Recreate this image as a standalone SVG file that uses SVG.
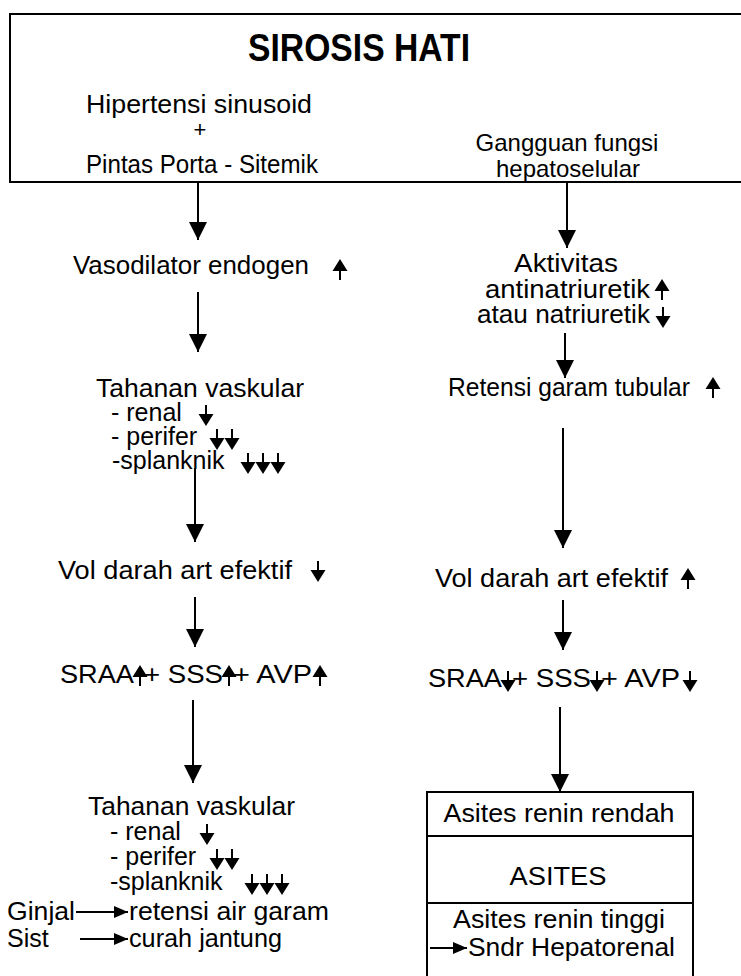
<svg xmlns="http://www.w3.org/2000/svg" xmlns:xlink="http://www.w3.org/1999/xlink" width="741" height="976" viewBox="0 0 741 976">
<style>
text{font-family:"Liberation Sans",Arial,sans-serif;font-size:25px;fill:#000}
.t{font-size:38px;font-weight:bold}
.m{text-anchor:middle}
.e{text-anchor:end}
.ln{stroke:#000;stroke-width:2;fill:none}
.c line{stroke:#000;stroke-width:2}
</style>
<defs>
<marker id="ah" markerUnits="userSpaceOnUse" markerWidth="20" markerHeight="20" refX="18" refY="9" orient="auto"><path d="M0,0 L18,9 L0,18 Z" fill="#000"/></marker>
<marker id="sh" markerUnits="userSpaceOnUse" markerWidth="16" markerHeight="14" refX="14" refY="6" orient="auto"><path d="M0,0 L14,6 L0,12 Z" fill="#000"/></marker>
<g id="dn"><line x1="0" y1="-21" x2="0" y2="-11" stroke="#000" stroke-width="2"/><path d="M-7.5,-12 L7.5,-12 L0,0 Z" fill="#000"/></g>
<g id="up"><line x1="0" y1="-10" x2="0" y2="0" stroke="#000" stroke-width="2"/><path d="M-7.5,-9 L7.5,-9 L0,-21 Z" fill="#000"/></g>
</defs>
<rect width="741" height="976" fill="#fff"/>

<g id="top">
<path class="ln" d="M760,14 H10 V182 H760"/>
<text class="t m" x="359" y="61" textLength="222" lengthAdjust="spacingAndGlyphs">SIROSIS HATI</text>
<text class="m" x="199" y="113" textLength="226" lengthAdjust="spacingAndGlyphs">Hipertensi sinusoid</text>
<text class="m" x="200" y="137" style="font-size:22px">+</text>
<text class="m" x="202" y="173" textLength="232" lengthAdjust="spacingAndGlyphs">Pintas Porta - Sitemik</text>
<text class="m" x="567" y="151" style="font-size:24px">Gangguan fungsi</text>
<text class="m" x="568" y="177" style="font-size:24px">hepatoselular</text>
</g>

<g class="c" id="connectors">
<line x1="198" y1="182" x2="198" y2="240" marker-end="url(#ah)"/>
<line x1="198" y1="292" x2="198" y2="352" marker-end="url(#ah)"/>
<line x1="195" y1="468" x2="195" y2="542" marker-end="url(#ah)"/>
<line x1="195" y1="597" x2="195" y2="647" marker-end="url(#ah)"/>
<line x1="193" y1="700" x2="193" y2="783" marker-end="url(#ah)"/>
<line x1="567" y1="182" x2="567" y2="248" marker-end="url(#ah)"/>
<line x1="565" y1="333" x2="565" y2="378" marker-end="url(#ah)"/>
<line x1="563" y1="428" x2="563" y2="548" marker-end="url(#ah)"/>
<line x1="563" y1="600" x2="563" y2="650" marker-end="url(#ah)"/>
<line x1="560" y1="707" x2="560" y2="792" marker-end="url(#ah)"/>
</g>

<g id="vasodilator">
<text x="73" y="274" textLength="236" lengthAdjust="spacingAndGlyphs">Vasodilator endogen</text>
<use xlink:href="#up" x="340" y="280"/>
</g>

<g id="tahanan1">
<text x="96" y="397" textLength="208" lengthAdjust="spacingAndGlyphs">Tahanan vaskular</text>
<text x="111" y="421">- renal</text>
<use xlink:href="#dn" x="206" y="426"/>
<text x="111" y="445">- perifer</text>
<use xlink:href="#dn" x="217" y="450"/>
<use xlink:href="#dn" x="232" y="450"/>
<text x="112" y="469">-splanknik</text>
<use xlink:href="#dn" x="248" y="474"/>
<use xlink:href="#dn" x="263" y="474"/>
<use xlink:href="#dn" x="278" y="474"/>
</g>

<g id="vol1">
<text x="58" y="579" textLength="234" lengthAdjust="spacingAndGlyphs">Vol darah art efektif</text>
<use xlink:href="#dn" x="318" y="582"/>
</g>

<g id="sraa1">
<text x="60" y="683" textLength="74" lengthAdjust="spacingAndGlyphs">SRAA</text>
<use xlink:href="#up" x="140" y="686"/>
<text x="144" y="683" textLength="79" lengthAdjust="spacingAndGlyphs">+ SSS</text>
<use xlink:href="#up" x="229" y="686"/>
<text x="233" y="683" textLength="79" lengthAdjust="spacingAndGlyphs">+ AVP</text>
<use xlink:href="#up" x="320" y="686"/>
</g>

<g id="tahanan2">
<text x="88" y="815" textLength="207" lengthAdjust="spacingAndGlyphs">Tahanan vaskular</text>
<text x="110" y="840">- renal</text>
<use xlink:href="#dn" x="207" y="845"/>
<text x="110" y="865">- perifer</text>
<use xlink:href="#dn" x="217" y="870"/>
<use xlink:href="#dn" x="232" y="870"/>
<text x="110" y="890">-splanknik</text>
<use xlink:href="#dn" x="252" y="895"/>
<use xlink:href="#dn" x="267" y="895"/>
<use xlink:href="#dn" x="282" y="895"/>
</g>

<g id="ginjal">
<text x="7" y="920" textLength="68" lengthAdjust="spacingAndGlyphs">Ginjal</text>
<line class="ln" x1="76" y1="912" x2="128" y2="912" stroke-width="1.6" marker-end="url(#sh)"/>
<text x="129" y="920" textLength="200" lengthAdjust="spacingAndGlyphs">retensi air garam</text>
</g>

<g id="sist">
<text x="7" y="947">Sist</text>
<line class="ln" x1="80" y1="939" x2="128" y2="939" stroke-width="1.6" marker-end="url(#sh)"/>
<text x="129" y="947" textLength="153" lengthAdjust="spacingAndGlyphs">curah jantung</text>
</g>

<g id="aktivitas">
<text class="m" x="566" y="272" textLength="104" lengthAdjust="spacingAndGlyphs">Aktivitas</text>
<text class="e" x="650" y="298" textLength="165" lengthAdjust="spacingAndGlyphs">antinatriuretik</text>
<use xlink:href="#up" x="662" y="300"/>
<text class="e" x="650" y="323" textLength="173" lengthAdjust="spacingAndGlyphs">atau natriuretik</text>
<use xlink:href="#dn" x="663" y="328"/>
</g>

<g id="retensi">
<text x="448" y="396" textLength="242" lengthAdjust="spacingAndGlyphs">Retensi garam tubular</text>
<use xlink:href="#up" x="713" y="398"/>
</g>

<g id="vol2">
<text x="435" y="587" textLength="233" lengthAdjust="spacingAndGlyphs">Vol darah art efektif</text>
<use xlink:href="#up" x="688" y="589"/>
</g>

<g id="sraa2">
<text x="428" y="687" textLength="74" lengthAdjust="spacingAndGlyphs">SRAA</text>
<use xlink:href="#dn" x="508" y="692"/>
<text x="512" y="687" textLength="79" lengthAdjust="spacingAndGlyphs">+ SSS</text>
<use xlink:href="#dn" x="597" y="692"/>
<text x="601" y="687" textLength="79" lengthAdjust="spacingAndGlyphs">+ AVP</text>
<use xlink:href="#dn" x="690" y="692"/>
</g>

<g id="asites">
<rect class="ln" x="427" y="792" width="266" height="200"/>
<line class="ln" x1="427" y1="836" x2="693" y2="836"/>
<line class="ln" x1="427" y1="903" x2="693" y2="903"/>
<text class="m" x="559" y="822" textLength="231" lengthAdjust="spacingAndGlyphs">Asites renin rendah</text>
<text class="m" x="558" y="885" textLength="97" lengthAdjust="spacingAndGlyphs">ASITES</text>
<text class="m" x="559" y="928" textLength="212" lengthAdjust="spacingAndGlyphs">Asites renin tinggi</text>
<line class="ln" x1="430" y1="948" x2="467" y2="948" stroke-width="1.6" marker-end="url(#sh)"/>
<text x="468" y="956" textLength="207" lengthAdjust="spacingAndGlyphs">Sndr Hepatorenal</text>
</g>
</svg>
